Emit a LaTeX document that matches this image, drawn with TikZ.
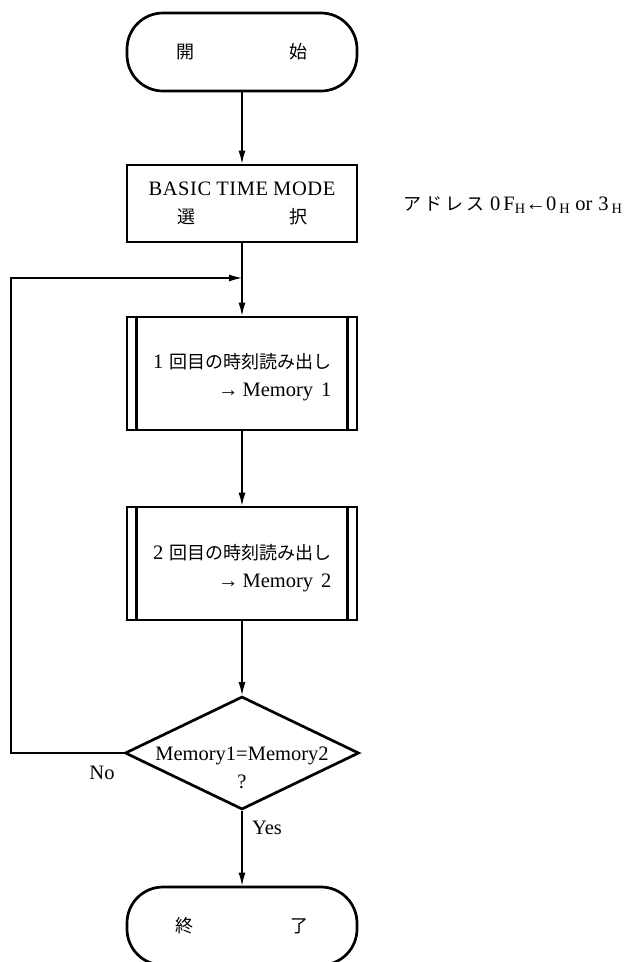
\documentclass[tikz,border=0pt]{standalone}
\usepackage{fontspec}
\setmainfont{Liberation Serif}
\newfontfamily\jpfont{Noto Sans CJK JP}
\newcommand\jtext[1]{{\fontsize{18}{28}\selectfont\jpfont #1}}
\usetikzlibrary{arrows.meta,shapes.geometric}
\begin{document}
\begin{tikzpicture}[x=1pt,y=-1pt,
  every node/.style={font=\fontsize{20.5}{28}\selectfont},
  box/.style={draw, line width=2.7pt, minimum width=230pt, inner sep=0pt},
  term/.style={box, rounded corners=36pt, minimum height=78pt},
  proc/.style={box, minimum height=77pt, align=center},
  pred/.style={box, minimum height=113pt},
  dec/.style={draw, diamond, line width=2.7pt, minimum width=234pt, minimum height=113pt, inner sep=0pt},
  conn/.style={line width=1.2pt},
  arr/.style={conn, -{Latex[length=13pt,width=7pt]}},
  barline/.style={line width=2.7pt}]
\useasboundingbox (0,0) rectangle (634,962);

% nodes
\node[term] (start) at (242,52) {\jtext{開}\hspace{95pt}\jtext{始}};
\node[proc] (basic) at (242,203.5) {B\hspace{0.6pt}A\hspace{0.6pt}S\hspace{0.6pt}I\hspace{0.6pt}C\hspace{5pt}T\hspace{0.6pt}I\hspace{0.6pt}M\hspace{0.6pt}E\hspace{5pt}M\hspace{0.6pt}O\hspace{0.6pt}D\hspace{0.6pt}E\\\jtext{選}\hspace{94pt}\jtext{択}};
\node[anchor=west, inner sep=0pt] (ann) at (403,205) {\jtext{ア\hspace{3pt}ド\hspace{3pt}レ\hspace{3pt}ス}\hspace{6pt}0\hspace{3pt}F\textsubscript{H}←0\hspace{3pt}\textsubscript{H}\hspace{5pt}or\hspace{6pt}3\hspace{3pt}\textsubscript{H}};

\node[pred] (p1) at (242,373.5) {};
\node[anchor=east, align=right] (t1) at (335,377) {1\hspace{6pt}\jtext{回目の時刻読み出し}\\→\hspace{4pt}Memory\hspace{8pt}1};
\draw[barline] ([xshift=11pt]p1.north west) -- ([xshift=11pt]p1.south west);
\draw[barline] ([xshift=-11pt]p1.north east) -- ([xshift=-11pt]p1.south east);

\node[pred] (p2) at (242,563.5) {};
\node[anchor=east, align=right] (t2) at (335,568) {2\hspace{6pt}\jtext{回目の時刻読み出し}\\→\hspace{4pt}Memory\hspace{8pt}2};
\draw[barline] ([xshift=11pt]p2.north west) -- ([xshift=11pt]p2.south west);
\draw[barline] ([xshift=-11pt]p2.north east) -- ([xshift=-11pt]p2.south east);

\node[dec] (d) at (242,753) {};
\node[align=center] (dt) at (242,768) {Memory1=Memory2\\?};

\node[term] (end) at (242,926) {\jtext{終}\hspace{97pt}\jtext{了}};

\node (no) at (102,773) {No};
\node (yes) at (267,828) {Yes};

% connectors
\coordinate (j) at (242,278);
\coordinate (lb) at (11,753);
\coordinate (lt) at (11,278);
\draw[arr] (start) -- (basic);
\draw[arr] (basic) -- (p1);
\draw[arr] (p1) -- (p2);
\draw[arr] (p2) -- (d);
\draw[arr] (d) -- (end);
\draw[arr] (d.west) -- (lb) -- (lt) -- (j);
\end{tikzpicture}
\end{document}
